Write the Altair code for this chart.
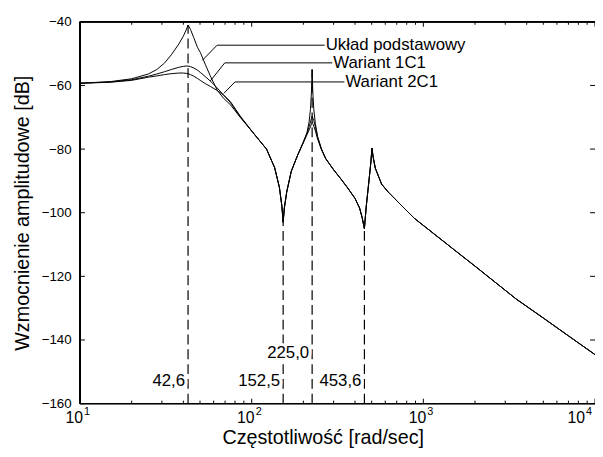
import altair as alt
import pandas as pd

# ---------------- data ----------------
freq = [10, 15, 20, 25, 28, 31, 34, 37.6, 40, 41.5, 42.6, 44, 46, 48.3, 50.2, 53.6, 57.4,
        63, 68.5, 75, 85.7, 102.4, 122, 136, 145, 150, 152.5, 155, 160, 170, 185, 200,
        210, 216, 220, 223, 225, 227, 230, 235, 242, 255, 270, 300, 330, 360, 400, 425,
        440, 453.6, 465, 480, 495, 502, 510, 525, 571, 624, 745, 888, 1000, 1500, 2000,
        3470, 5000, 7000, 10000]

uklad_podstawowy = [-59.3, -58.8, -57.9, -56.4, -55.0, -53.0, -50.4, -47.0, -44.5, -42.6,
                    -41.0, -42.4, -45.0, -48.0, -49.6, -53.3, -57.0, -61.5, -64.0, -66.0,
                    -70.0, -75.0, -80.0, -85.8, -92.0, -98.0, -103.0, -98.5, -93.5, -87.0,
                    -82.0, -77.8, -74.8, -71.5, -67.5, -62.0, -55.0, -62.0, -67.5, -72.0,
                    -76.0, -80.0, -83.0, -86.5, -89.3, -92.0, -95.5, -98.5, -101.5, -105.0,
                    -98.0, -91.0, -84.0, -79.7, -82.5, -86.0, -91.0, -93.5, -97.7, -101.8,
                    -104.0, -111.5, -116.8, -127.1, -133.1, -138.7, -144.6]

wariant_1c1 = [-59.3, -58.9, -58.2, -57.1, -56.4, -55.7, -55.0, -54.3, -54.0, -53.9,
               -53.9, -54.1, -54.5, -55.2, -55.9, -57.2, -58.6, -60.8, -63.0, -65.3,
               -69.8, -75.0, -80.0, -85.8, -92.0, -98.0, -103.0, -98.5, -93.5, -87.0,
               -82.0, -77.8, -75.0, -73.0, -71.5, -70.3, -69.6, -70.2, -71.0, -73.0,
               -76.3, -80.0, -83.0, -86.5, -89.3, -92.0, -95.5, -98.5, -101.5, -105.0,
               -98.0, -91.0, -84.0, -79.7, -82.5, -86.0, -91.0, -93.5, -97.7, -101.8,
               -104.0, -111.5, -116.8, -127.1, -133.1, -138.7, -144.6]

wariant_2c1 = [-59.3, -59.0, -58.4, -57.4, -57.0, -56.6, -56.3, -56.1, -56.1, -56.2,
               -56.3, -56.6, -57.1, -57.8, -58.4, -59.4, -60.3, -61.6, -63.0, -65.0,
               -69.6, -75.0, -80.0, -85.8, -92.0, -98.0, -103.0, -98.5, -93.5, -87.0,
               -82.0, -78.0, -75.5, -74.0, -73.0, -72.0, -71.5, -72.0, -72.8, -74.3,
               -76.8, -80.2, -83.0, -86.5, -89.3, -92.0, -95.5, -98.5, -101.5, -105.0,
               -98.0, -91.0, -84.0, -79.7, -82.5, -86.0, -91.0, -93.5, -97.7, -101.8,
               -104.0, -111.5, -116.8, -127.1, -133.1, -138.7, -144.6]

series_names = ["Układ podstawowy", "Wariant 1C1", "Wariant 2C1"]

marker_freq = [42.6, 152.5, 225.0, 453.6]
marker_top = [-41.0, -103.0, -55.0, -105.0]
marker_text = ["42,6", "152,5", "225,0", "453,6"]
marker_text_db = [-152.9, -152.9, -144.2, -152.9]

leader_w = [[51.6, 62.9, 266.3], [57.4, 69.7, 294.8], [68.8, 79.9, 346.9]]
leader_db = [[-52.1, -47.35, -47.35], [-58.6, -52.9, -52.9], [-62.5, -58.9, -58.9]]

x_major = [10, 100, 1000, 10000]
x_exponent = ["1", "2", "3", "4"]
x_minor = [m * 10 ** d for d in (1, 2, 3) for m in range(2, 10)]
y_ticks = [-160, -140, -120, -100, -80, -60, -40]

# ---------------- tables ----------------
curves = pd.DataFrame({
    "w": freq * 3,
    "db": uklad_podstawowy + wariant_1c1 + wariant_2c1,
    "series": [series_names[0]] * len(freq) + [series_names[1]] * len(freq)
              + [series_names[2]] * len(freq),
})
markers = pd.DataFrame({"w": marker_freq, "db": [-160] * 4, "db_top": marker_top,
                        "label": marker_text, "label_db": marker_text_db})
leaders = pd.DataFrame([
    {"w": leader_w[i][k], "db": leader_db[i][k], "series": series_names[i], "k": k}
    for i in range(3) for k in range(3)
])
legend_txt = pd.DataFrame({"w": [lw[2] for lw in leader_w],
                           "db": [ld[2] for ld in leader_db],
                           "label": series_names})
majors = pd.DataFrame({"w": x_major, "exp": x_exponent, "base": ["10"] * 4})
minors = pd.DataFrame({"w": x_minor})
yt = pd.DataFrame({"db": y_ticks})

# ---------------- layout ----------------
W, H = 522, 387
FONT = "Liberation Sans"
xs = alt.Scale(type="log", domain=[10, 10000], nice=False)
ys = alt.Scale(domain=[-160, -40], nice=False, zero=False)

xaxis = alt.Axis(labels=False, ticks=False, tickSize=0, domain=False, grid=False,
                 title="Częstotliwość  [rad/sec]", titleFont=FONT, titleFontSize=20,
                 titleFontWeight="normal", titleColor="black",
                 titleX=246, titleY=34, titleBaseline="middle")
yaxis = alt.Axis(values=y_ticks, labelFont=FONT, labelFontSize=13.5, labelColor="black",
                 labelPadding=9, ticks=False, tickSize=0, domain=False, grid=False,
                 title="Wzmocnienie amplitudowe [dB]", titleFont=FONT, titleFontSize=20,
                 titleFontWeight="normal", titleColor="black",
                 titleX=-58, titleY=H / 2, titleBaseline="middle", titleAngle=270)

X = alt.X("w:Q", scale=xs, axis=xaxis)
Y = alt.Y("db:Q", scale=ys, axis=yaxis)
Xn = alt.X("w:Q", scale=xs)
Yn = alt.Y("db:Q", scale=ys)

curve_layer = alt.Chart(curves).mark_line(color="black", strokeWidth=1, clip=True).encode(
    x=X, y=Y, detail="series:N")

dashed = alt.Chart(markers).mark_rule(color="black", strokeWidth=1.2, strokeDash=[10, 5]).encode(
    x=Xn, y=Yn, y2="db_top:Q")

marker_halo = alt.Chart(markers).mark_text(
    font=FONT, fontSize=17, align="right", baseline="middle", dx=-3,
    stroke="white", strokeWidth=6, color="white").encode(
    x=Xn, y=alt.Y("label_db:Q", scale=ys), text="label:N")
marker_lbl = alt.Chart(markers).mark_text(
    font=FONT, fontSize=17, align="right", baseline="middle", dx=-3, color="black").encode(
    x=Xn, y=alt.Y("label_db:Q", scale=ys), text="label:N")

leader_layer = alt.Chart(leaders).mark_line(color="black", strokeWidth=1).encode(
    x=Xn, y=Yn, detail="series:N", order="k:Q")
legend_layer = alt.Chart(legend_txt).mark_text(
    font=FONT, fontSize=17, align="left", baseline="middle", dx=1, color="black").encode(
    x=Xn, y=Yn, text="label:N")

# ticks pointing inward (MATLAB style)
tick_major_b = alt.Chart(majors).mark_rule(color="black").encode(
    x=Xn, y=alt.value(H), y2=alt.value(H - 5))
tick_major_t = alt.Chart(majors).mark_rule(color="black").encode(
    x=Xn, y=alt.value(0), y2=alt.value(5))
tick_minor_b = alt.Chart(minors).mark_rule(color="black").encode(
    x=Xn, y=alt.value(H), y2=alt.value(H - 3))
tick_minor_t = alt.Chart(minors).mark_rule(color="black").encode(
    x=Xn, y=alt.value(0), y2=alt.value(3))
tick_y_l = alt.Chart(yt).mark_rule(color="black").encode(
    y=Yn, x=alt.value(0), x2=alt.value(5))
tick_y_r = alt.Chart(yt).mark_rule(color="black").encode(
    y=Yn, x=alt.value(W), x2=alt.value(W - 5))

# frame (right edge is outside the picture in the reference)
frame_l = alt.Chart(yt).mark_rule(color="black").encode(
    x=alt.value(0), y=alt.value(0), y2=alt.value(H))
frame_t = alt.Chart(yt).mark_rule(color="black").encode(
    y=alt.value(0), x=alt.value(0), x2=alt.value(W))
frame_b = alt.Chart(yt).mark_rule(color="black").encode(
    y=alt.value(H), x=alt.value(0), x2=alt.value(W))

# x tick labels 10^n
first3 = majors.iloc[:3]
last1 = majors.iloc[3:]
lbl_base = alt.Chart(first3).mark_text(font=FONT, fontSize=16, align="right",
                                       baseline="middle", dx=3, color="black").encode(
    x=Xn, y=alt.value(H + 15), text="base:N")
lbl_exp = alt.Chart(first3).mark_text(font=FONT, fontSize=11, align="left",
                                      baseline="middle", dx=4, color="black").encode(
    x=Xn, y=alt.value(H + 9), text="exp:N")
lbl_base4 = alt.Chart(last1).mark_text(font=FONT, fontSize=16, align="right",
                                       baseline="middle", dx=-10, color="black").encode(
    x=Xn, y=alt.value(H + 15), text="base:N")
lbl_exp4 = alt.Chart(last1).mark_text(font=FONT, fontSize=11, align="left",
                                      baseline="middle", dx=-9, color="black").encode(
    x=Xn, y=alt.value(H + 9), text="exp:N")

chart = alt.layer(
    curve_layer, dashed, marker_halo, marker_lbl, leader_layer, legend_layer,
    tick_major_b, tick_major_t, tick_minor_b, tick_minor_t, tick_y_l, tick_y_r,
    frame_l, frame_t, frame_b, lbl_base, lbl_exp, lbl_base4, lbl_exp4,
).properties(
    width=W, height=H,
    padding={"left": 73, "top": 11, "right": 0, "bottom": 43},
    autosize=alt.AutoSizeParams(type="none"),
    background="white",
).configure_view(stroke=None)

chart.save("out.html", embed_options={"renderer": "svg", "actions": False})
